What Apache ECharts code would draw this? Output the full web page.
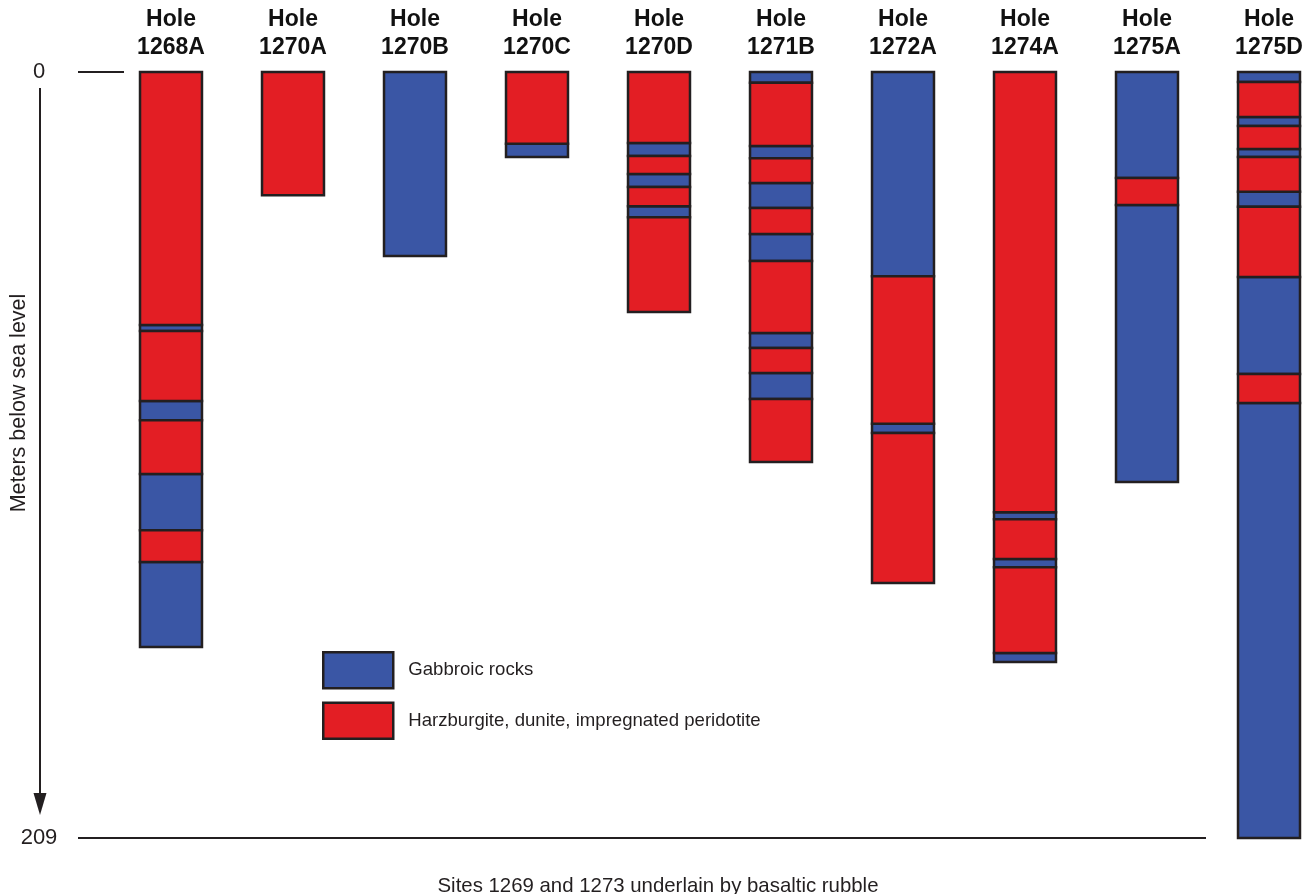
<!DOCTYPE html>
<html>
<head>
<meta charset="utf-8">
<script src="https://cdn.jsdelivr.net/npm/echarts@6/dist/echarts.min.js"></script>
<style>
  html, body { margin: 0; padding: 0; background: #fff; }
  #chart { width: 1316px; height: 894px; }
</style>
</head>
<body>
<div id="chart"></div>
<script>
// Drill holes, left to right
const holes = ['1268A', '1270A', '1270B', '1270C', '1270D', '1271B', '1272A', '1274A', '1275A', '1275D'];

// Depth axis ticks (m below sea level)
const depthTicks = [0, 209];

// Lithology intervals per hole: [top depth, bottom depth, code]
// G = gabbroic rocks, P = harzburgite / dunite / impregnated peridotite
const hole1268A = [[0, 69.0, 'P'], [69.0, 70.7, 'G'], [70.7, 89.8, 'P'], [89.8, 95.0, 'G'], [95.0, 109.7, 'P'], [109.7, 125.0, 'G'], [125.0, 133.7, 'P'], [133.7, 156.9, 'G']];
const hole1270A = [[0, 33.6, 'P']];
const hole1270B = [[0, 50.2, 'G']];
const hole1270C = [[0, 19.6, 'P'], [19.6, 23.2, 'G']];
const hole1270D = [[0, 19.4, 'P'], [19.4, 22.9, 'G'], [22.9, 27.8, 'P'], [27.8, 31.4, 'G'], [31.4, 36.6, 'P'], [36.6, 39.6, 'G'], [39.6, 65.5, 'P']];
const hole1271B = [[0, 2.9, 'G'], [2.9, 20.2, 'P'], [20.2, 23.5, 'G'], [23.5, 30.3, 'P'], [30.3, 37.1, 'G'], [37.1, 44.2, 'P'], [44.2, 51.6, 'G'], [51.6, 71.2, 'P'], [71.2, 75.3, 'G'], [75.3, 82.1, 'P'], [82.1, 89.2, 'G'], [89.2, 106.4, 'P']];
const hole1272A = [[0, 55.7, 'G'], [55.7, 96.0, 'P'], [96.0, 98.5, 'G'], [98.5, 139.4, 'P']];
const hole1274A = [[0, 120.1, 'P'], [120.1, 122.0, 'G'], [122.0, 132.9, 'P'], [132.9, 135.1, 'G'], [135.1, 158.5, 'P'], [158.5, 161.0, 'G']];
const hole1275A = [[0, 28.9, 'G'], [28.9, 36.3, 'P'], [36.3, 111.9, 'G']];
const hole1275D = [[0, 2.7, 'G'], [2.7, 12.3, 'P'], [12.3, 14.7, 'G'], [14.7, 21.0, 'P'], [21.0, 23.2, 'G'], [23.2, 32.7, 'P'], [32.7, 36.8, 'G'], [36.8, 55.9, 'P'], [55.9, 82.4, 'G'], [82.4, 90.3, 'P'], [90.3, 209, 'G']];

const lithologyNames = { G: 'Gabbroic rocks', P: 'Harzburgite, dunite, impregnated peridotite' };
const lithologyColors = { G: '#3A56A5', P: '#E31E24' };

const FONT = '"Liberation Sans", Arial, Helvetica, sans-serif';
const INK = '#231F20';

const holeLogs = [hole1268A, hole1270A, hole1270B, hole1270C, hole1270D, hole1271B, hole1272A, hole1274A, hole1275A, hole1275D];

// Flatten into one dataset per lithology: [hole index, top, bottom]
function intervalsOf(code) {
  const out = [];
  holeLogs.forEach((log, i) => {
    log.forEach(([top, bottom, c]) => { if (c === code) out.push([i, top, bottom]); });
  });
  return out;
}

function renderInterval(params, api) {
  const idx = api.value(0);
  const x = api.coord([idx, api.value(1)])[0];
  const yTop = api.coord([idx, api.value(1)])[1];
  const yBot = api.coord([idx, api.value(2)])[1];
  const w = api.size([1, 0])[0] * 0.508;
  return {
    type: 'rect',
    shape: { x: x - w / 2, y: yTop, width: w, height: yBot - yTop },
    style: { fill: api.visual('color'), stroke: INK, lineWidth: 2.5 }
  };
}

function makeSeries(code) {
  return {
    type: 'custom',
    name: lithologyNames[code],
    itemStyle: { color: lithologyColors[code] },
    renderItem: renderInterval,
    encode: { x: 0, y: [1, 2] },
    data: intervalsOf(code),
    silent: true
  };
}

const chart = echarts.init(document.getElementById('chart'), null, { renderer: 'canvas' });

const option = {
  animation: false,
  backgroundColor: '#fff',
  textStyle: { fontFamily: FONT },
  title: {
    text: 'Sites 1269 and 1273 underlain by basaltic rubble',
    left: 'center',
    top: 871,
    textStyle: { fontFamily: FONT, fontSize: 20.4, fontWeight: 'normal', color: INK }
  },
  legend: {
    orient: 'vertical',
    left: 322,
    top: 651,
    padding: 0,
    itemWidth: 70,
    itemHeight: 36,
    itemGap: 12,
    selectedMode: false,
    textStyle: { fontFamily: FONT, fontSize: 18.6, color: INK, padding: [0, 0, 0, 10] },
    data: ['G', 'P'].map(c => ({
      name: lithologyNames[c],
      icon: 'rect',
      itemStyle: { color: lithologyColors[c], borderColor: INK, borderWidth: 2.5 }
    }))
  },
  grid: { left: 171, right: 47, top: 72, bottom: 56, outerBoundsMode: 'none', containLabel: false },
  xAxis: {
    type: 'category',
    data: holes,
    boundaryGap: false,
    position: 'top',
    axisLine: { show: false },
    axisTick: { show: false },
    splitLine: { show: false },
    axisLabel: {
      interval: 0,
      margin: 10,
      formatter: v => 'Hole\n' + v,
      fontFamily: FONT,
      fontSize: 23,
      fontWeight: 'bold',
      lineHeight: 28,
      color: '#111'
    }
  },
  yAxis: {
    type: 'value',
    inverse: true,
    min: depthTicks[0],
    max: depthTicks[1],
    interval: depthTicks[1] - depthTicks[0],
    name: 'Meters below sea level',
    nameLocation: 'middle',
    nameGap: 141,
    nameMoveOverlap: false,
    nameTextStyle: { fontFamily: FONT, fontSize: 21.5, color: INK, padding: [0, 0, 0, 104] },
    axisLine: { show: false },
    axisTick: { show: false },
    splitLine: { show: false },
    axisLabel: {
      margin: 132,
      align: 'center',
      fontFamily: FONT,
      fontSize: 22,
      color: INK
    }
  },
  series: [makeSeries('G'), makeSeries('P')]
};

chart.setOption(option);

// Reference lines at the top and base of the depth scale, plus the depth arrow
const yTop = chart.convertToPixel({ yAxisIndex: 0 }, depthTicks[0]);
const yBase = chart.convertToPixel({ yAxisIndex: 0 }, depthTicks[1]);
const arrowX = 40;
chart.setOption({
  graphic: [
    { type: 'line', shape: { x1: 78, y1: yTop, x2: 124, y2: yTop }, style: { stroke: INK, lineWidth: 2 }, z: 10 },
    { type: 'line', shape: { x1: 78, y1: yBase, x2: 1206, y2: yBase }, style: { stroke: INK, lineWidth: 2 }, z: 10 },
    { type: 'line', shape: { x1: arrowX, y1: yTop + 16, x2: arrowX, y2: yBase - 44 }, style: { stroke: INK, lineWidth: 2 }, z: 10 },
    { type: 'polygon', shape: { points: [[arrowX - 6.5, yBase - 45], [arrowX + 6.5, yBase - 45], [arrowX, yBase - 23]] }, style: { fill: INK }, z: 10 }
  ]
});
</script>
</body>
</html>
